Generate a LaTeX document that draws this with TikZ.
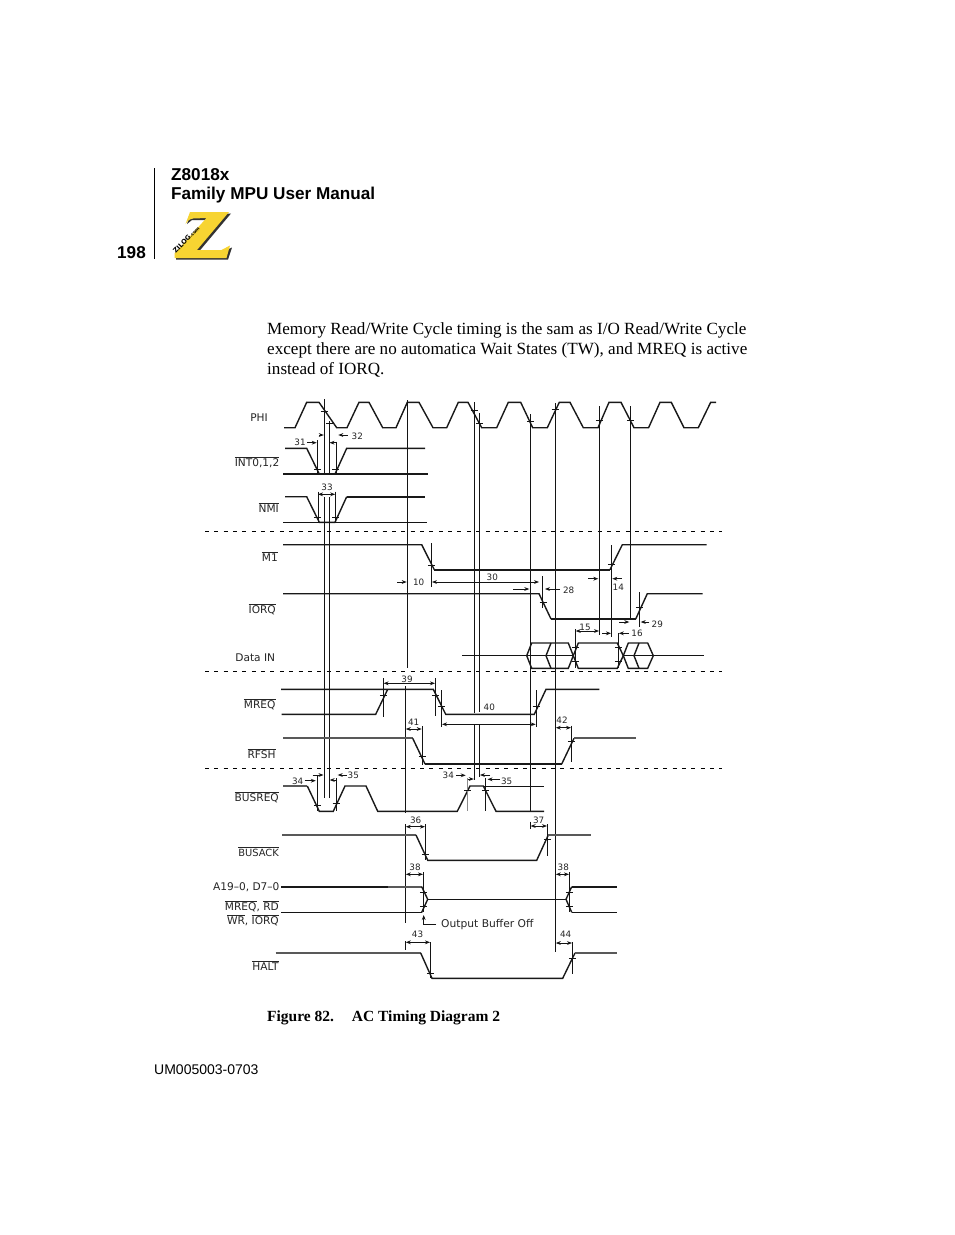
\documentclass[tikz,border=0pt]{standalone}
\usepackage{fontspec}
\usetikzlibrary{arrows.meta}
\setmainfont{Liberation Serif}
\newfontfamily\hdr{Liberation Sans}
\newfontfamily\dgm{DejaVu Sans}
\definecolor{zyellow}{RGB}{247,212,50}
\newcommand{\ovl}[1]{$\overline{\hbox{#1}}$}
\newcommand{\tck}[2]{\draw[ln] (#1,#2) ++(-3.5,0) -- ++(7,0);}
\newcommand{\vl}[3]{\draw[ln] (#1,#2) -- (#1,#3);}
% single and double headed dimension arrows: x1 x2 y
\newcommand{\ar}[3]{\draw[ln,-{Stealth[length=5pt,width=3.8pt]}] (#1,#3) -- (#2,#3);}
\newcommand{\dm}[3]{\draw[ln,{Stealth[length=5pt,width=3.8pt]}-{Stealth[length=5pt,width=3.8pt]}] (#1,#3) -- (#2,#3);}
\begin{document}
\begin{tikzpicture}[x=1pt,y=-1pt,
  ln/.style={line width=1pt,black!92},
  wave/.style={line width=1.4pt,black!90,line join=miter},
  heavy/.style={line width=2.3pt,black!90},
  soft/.style={line width=1.8pt,black!65},
  sepline/.style={line width=0.9pt,dash pattern=on 4pt off 5.35pt},
  num/.style={font=\dgm\fontsize{8.8}{10}\selectfont,text=black!85,inner sep=0pt},
  lab/.style={font=\dgm\fontsize{10.6}{12}\selectfont,text=black!85,inner sep=0pt,anchor=base east},
  head/.style={font=\hdr\bfseries\fontsize{17.15}{20}\selectfont,inner sep=0pt,anchor=base west},
  body/.style={font=\fontsize{17.1}{20}\selectfont,inner sep=0pt,anchor=base west}]
\useasboundingbox (0,0) rectangle (954,1235);
\fill[white] (0,0) rectangle (954,1235);

% page furniture
\draw[line width=1.1pt] (154.5,168) -- (154.5,259);
\node[head] (t1) at (171,180) {Z8018x};
\node[head] (t2) at (171,199) {Family MPU User Manual};
\node[head] (pg) at (117,258) {198};
% logo
\fill[black!80] (191,213.5) -- (231,213.5) -- (199,251.5) -- (223,251.5) -- (232,247.5) -- (228,259.5) -- (176,259.5) -- (176,255) -- (208,220) -- (192,220) -- (187,224) -- cycle;
\fill[zyellow] (190,212) -- (229,212) -- (197,250) -- (221.5,250) -- (230,245.5) -- (226.5,258) -- (174.5,258) -- (174.5,253.5) -- (206.5,218) -- (193,218.5) .. controls (189,219.5) and (187,221) .. (185.5,224) -- cycle;
\node[font=\dgm\bfseries\fontsize{6.6}{7}\selectfont,rotate=46,inner sep=0pt] (zl) at (186.3,239.5) {ZILOG\fontsize{4.6}{5}\selectfont.com};

\node[body] (p1) at (267,334) {Memory Read/Write Cycle timing is the sam as I/O Read/Write Cycle};
\node[body] (p2) at (267,354) {except there are no automatica Wait States (TW), and MREQ is active};
\node[body] (p3) at (267,374) {instead of IORQ.};
\node[body,font=\bfseries\fontsize{15.5}{18}\selectfont] (cap) at (267,1021) {Figure 82.\hspace{1.15em}AC Timing Diagram 2};
\node[head,font=\hdr\fontsize{14}{16}\selectfont] (doc) at (154,1074) {UM005003-0703};

% separators
\draw[sepline] (205,531.5) -- (722,531.5);
\draw[sepline] (205,671.5) -- (722,671.5);
\draw[sepline] (205,768.5) -- (722,768.5);

% PHI
\draw[wave] (284,427.7) -- (295,427.7) -- (306.7,402.3) -- (319,402.3) -- (336.7,427.7) -- (347,427.7)
 -- (359,402.3) -- (369,402.3) -- (382.7,427.7) -- (396,427.7) -- (407.3,402.3) -- (419,402.3)
 -- (433,427.7) -- (446.7,427.7) -- (458.3,402.3) -- (468,402.3) -- (481.7,427.7) -- (496.7,427.7)
 -- (508.3,402.3) -- (520.7,402.3) -- (532.7,427.7) -- (547.3,427.7) -- (559.3,402.3) -- (570,402.3)
 -- (583.3,427.7) -- (598,427.7) -- (609,402.3) -- (621,402.3) -- (634,427.7) -- (648.6,427.7)
 -- (660,402.3) -- (671.3,402.3) -- (684,427.7) -- (698.3,427.7) -- (710.7,402.3) -- (716,402.3);

% long verticals
\vl{324.3}{399}{474} \vl{324.3}{497}{798} \vl{329}{421}{474} \vl{329}{497}{798} \vl{407.4}{400}{667.7}
\vl{405.5}{686}{813} \vl{405.5}{824}{923} \vl{405.5}{941}{950}
\vl{474.5}{402}{712.7} \vl{474.5}{725}{780} \vl{479.3}{413}{711.7} \vl{479.3}{725}{777}
\vl{530.3}{414}{811.7} \vl{555.5}{403}{951.7} \vl{599.3}{406}{635} \vl{630.3}{406}{618}
\tck{324}{411} \tck{329.5}{423} \tck{474}{410.7} \tck{479.5}{423.5} \tck{530.3}{421.5} \tck{555}{409.5} \tck{599.3}{420.7} \tck{630.3}{420.7}

% INT
\draw[wave] (285,448.3) -- (306.7,448.3) -- (319.3,474);
\draw[wave] (335,474) -- (346.7,448.3) -- (425,448.3);
\draw[heavy] (283,474) -- (428,474);
\vl{317.3}{440}{474} \vl{336}{441.7}{474}
\tck{317.3}{469} \tck{335.5}{469}
\ar{307.3}{316.7}{442.7} \ar{319}{323.8}{435} \ar{336.5}{329.5}{442.7} \ar{347.7}{338.3}{435}
\node[num] (n31) at (300,442.5) {31};
\node[num] (n32) at (357.3,436.7) {32};

% NMI
\draw[wave] (285,496.7) -- (306.7,496.7) -- (319.3,522.3) -- (333,522.3) -- (335,522.3) -- (346.7,496.7);
\draw[heavy] (346.7,496.7) -- (425,496.7);
\draw[ln] (283,522.3) -- (426.7,522.3);
\vl{318}{491.7}{522} \vl{335.2}{491.7}{522}
\tck{317.3}{517} \tck{335.5}{517}
\dm{318}{335.2}{494.3}
\node[num] (n33) at (327,487) {33};

% M1
\draw[wave] (283,544.7) -- (421.7,544.7) -- (434.3,569.7);
\draw[heavy] (434.3,569.7) -- (610,569.7);
\draw[wave] (610,569.7) -- (622.3,544.7) -- (706.7,544.7);
\vl{431.3}{543}{586.7} \tck{431.3}{565}
\ar{397.3}{406.7}{582}
\node[num] (n10) at (418.7,582) {10};
\dm{432}{539}{582}
\node[num] (n30) at (492.3,577.7) {30};

% IORQ
\draw[wave] (283,593.7) -- (539,593.7) -- (551,619);
\draw[heavy] (551,619) -- (635.7,619);
\draw[wave] (635.7,619) -- (647.3,593.7) -- (702.7,593.7);
\vl{542.3}{576}{608.3} \tck{543}{602.7}
\ar{513.3}{529.3}{589} \ar{560}{545}{589}
\node[num] (n28) at (568.7,590.7) {28};
\vl{611.3}{545}{636.7} \tck{611.3}{564.5}
\ar{588.3}{598.3}{578.7} \ar{621.7}{612.3}{578.7}
\node[num] (n14) at (618.3,587) {14};
\vl{639.3}{592}{626.7} \tck{639.3}{607}
\ar{619.3}{629.3}{622} \ar{649.3}{640.7}{622}
\node[num] (n29) at (657.3,624) {29};

% Data IN
\draw[ln] (462.3,655.7) -- (573.3,655.7);
\draw[ln] (623.3,655.7) -- (704,655.7);
\draw[wave] (526.7,655.7) -- (531.7,643) -- (568.3,643) -- (573.3,655.7) -- (568.3,668.3) -- (531.7,668.3) -- cycle;
\draw[wave] (551,643) -- (546,655.7) -- (551,668.3);
\draw[wave] (573.3,655.7) -- (578.3,643) -- (617.3,643) -- (623.3,655.7) -- (617.3,668.3) -- (578.3,668.3) -- cycle;
\draw[wave] (623.3,655.7) -- (628.3,643) -- (647.7,643) -- (653.3,655.7) -- (647.7,668.3) -- (628.3,668.3) -- cycle;
\draw[wave] (639,643) -- (634,655.7) -- (639,668.3);
\vl{575.7}{629}{668} \vl{618.3}{633.3}{668}
\tck{575.7}{647.3} \tck{575.7}{661} \tck{618.3}{647.3} \tck{618.3}{661}
\dm{575.7}{599}{631}
\node[num] (n15) at (585,627) {15};
\ar{602.3}{611}{633.3}
\ar{628.5}{618.8}{633.3}
\node[num] (n16) at (637,633) {16};

% MREQ
\draw[wave] (281.7,714.3) -- (375.7,714.3) -- (387.7,689.3);
\draw[wave] (281,689.3) -- (433.3,689.3) -- (445.7,714.3) -- (534.3,714.3) -- (546,689.3) -- (599.3,689.3);
\vl{383.3}{678.3}{716.7} \vl{435.3}{678}{715.7} \vl{441.7}{690}{726.7} \vl{536}{690}{726.7}
\tck{383.3}{695} \tck{435.3}{695} \tck{441.7}{706} \tck{536}{706.7}
\dm{383.6}{435}{683.3}
\node[num] (n39) at (407,679) {39};
\dm{442}{535.7}{724.3}
\node[num] (n40) at (489.3,707.7) {40};

% RFSH
\draw[soft] (283,738.3) -- (412.7,738.3);
\draw[wave] (412.7,738.3) -- (425,764);
\draw[heavy] (425,764) -- (561.7,764);
\draw[wave] (561.7,764) -- (574,738.3);
\draw[soft] (574,738.3) -- (635.7,738.3);
\vl{422}{726}{765} \tck{422}{756}
\dm{405.8}{421.7}{729}
\node[num] (n41) at (413.7,722) {41};
\vl{571.3}{725.7}{761.7} \tck{571.3}{741.5}
\dm{555.8}{571}{727.7}
\node[num] (n42) at (562,720.7) {42};

% BUSREQ
\draw[soft] (283.3,786) -- (307.3,786);
\draw[wave] (307.3,786) -- (319.3,811.3) -- (333.3,811.3) -- (345,786) -- (366,786) -- (377.7,811.3) -- (457.3,811.3) -- (470,786) -- (483.3,786) -- (496,811.3) -- (544,811.3);
\draw[ln] (483.3,786.5) -- (544,786.5);
\vl{317.3}{775}{811} \vl{336}{778}{811} \vl{485.3}{778}{811}
\draw[line width=1.5pt,black!45] (467.7,778) -- (467.7,811);
\tck{317.3}{805} \tck{336}{803} \tck{467.7}{790} \tck{485.3}{790}
\ar{304.5}{315.8}{780.7} \ar{312.7}{323.5}{775} \ar{336.5}{329.7}{780} \ar{346.7}{337.7}{775}
\node[num] (n34a) at (297.7,781) {34};
\node[num] (n35a) at (353.3,775) {35};
\ar{456}{465.7}{775.3} \ar{467.5}{473.8}{779} \ar{490}{480}{775} \ar{500}{487.5}{779.3}
\node[num] (n34b) at (448.3,775.7) {34};
\node[num] (n35b) at (506.7,781) {35};

% BUSACK
\draw[soft] (282.3,835) -- (416,835);
\draw[wave] (416,835) -- (427.7,860.3) -- (536.7,860.3) -- (548.3,835);
\draw[soft] (548.3,835) -- (590.7,835);
\vl{425.3}{824.3}{860} \tck{425.3}{854}
\dm{405.8}{425}{826.7}
\node[num] (n36) at (415.7,820) {36};
\vl{530.3}{821.7}{829.3} \vl{547.3}{824.3}{855.7} \tck{547.3}{839.3}
\dm{530.6}{547}{826}
\node[num] (n37) at (538.7,820) {37};

% A19 / bus
\draw[heavy] (281,886.7) -- (388,886.7);
\draw[soft] (388,886.7) -- (421.7,886.7);
\draw[ln] (281,912.3) -- (421.7,912.3);
\draw[wave] (421.7,886.7) -- (427.7,899.3) -- (421.7,912.3);
\draw[ln] (427.7,899.3) -- (566,899.3);
\draw[wave] (571.7,912.3) -- (566,899.3) -- (571.7,886.7);
\draw[heavy] (571.7,886.7) -- (616.7,886.7);
\draw[ln] (571.7,912.3) -- (616.7,912.3);
\vl{423.3}{872.3}{912} \tck{423.3}{892} \tck{423.3}{906}
\dm{405.8}{423}{874.3}
\node[num] (n38a) at (415,867) {38};
\vl{569.3}{872.3}{912} \tck{569.3}{892} \tck{569.3}{906}
\dm{555.8}{569}{874.3}
\node[num] (n38b) at (563.3,867) {38};
\node[anchor=west,inner sep=0pt,font=\dgm\fontsize{10.7}{12}\selectfont,text=black!85] (obo) at (441,925) {Output Buffer Off};
\draw[ln,-{Stealth[length=5pt,width=3.8pt]}] (obo.west) ++(-5,-1) -- (423.7,924) -- (423.7,915);

% HALT
\draw[soft] (275.7,953) -- (420.7,953);
\draw[wave] (420.7,953) -- (432,978.3) -- (562.7,978.3) -- (575,953);
\draw[soft] (575,953) -- (616.7,953);
\vl{430.3}{942.3}{978.3} \tck{430.3}{973}
\dm{405.8}{430}{942.3}
\node[num] (n43) at (417.5,934) {43};
\vl{572.3}{942.3}{974} \tck{572.3}{958}
\dm{555.8}{572}{943}
\node[num] (n44) at (565.7,934) {44};

% signal labels
\node[lab] (lphi) at (268,421) {PHI};
\node[lab] (lint) at (279.5,466) {\ovl{INT0,1,2}};
\node[lab] (lnmi) at (279,512) {\ovl{NMI}};
\node[lab] (lm1) at (278,561) {\ovl{M1}};
\node[lab] (liorq) at (276,613.3) {\ovl{IORQ}};
\node[lab] (ldat) at (275.3,661.3) {Data IN};
\node[lab] (lmreq) at (275.7,708) {\ovl{MREQ}};
\node[lab] (lrfsh) at (275.7,758) {\ovl{RFSH}};
\node[lab] (lbrq) at (279,801) {\ovl{BUSREQ}};
\node[lab,font=\dgm\fontsize{9.9}{11}\selectfont] (lbak) at (279,856.3) {\ovl{BUSACK}};
\node[lab] (lbus) at (279.7,890.5) {A19–0, D7–0};
\node[lab] (lmr) at (279,910) {\ovl{MREQ}, \ovl{RD}};
\node[lab] (lwr) at (279,924) {\ovl{WR}, \ovl{IORQ}};
\node[lab] (lhlt) at (278.7,970) {\ovl{HALT}};
\end{tikzpicture}
\end{document}
